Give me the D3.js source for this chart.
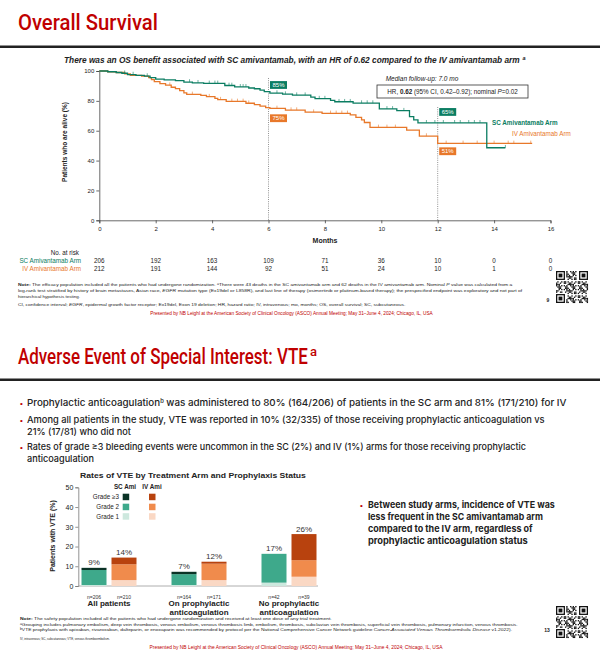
<!DOCTYPE html>
<html><head><meta charset="utf-8">
<script src="https://cdn.jsdelivr.net/npm/d3@7"></script>
<style>body{margin:0;background:#fff}svg{display:block}</style>
</head><body><svg id="c" width="600" height="665"></svg>
<script>
// ---------------- DATA ----------------
const kmMonthTicks = [0,2,4,6,8,10,12,14,16];
const kmPercentTicks = [0,20,40,60,80,100];
const scSteps = [[0,100],[0.3,99.5],[0.6,99],[0.8,98.5],[1.0,97.6],[1.3,97.1],[1.6,96.6],[1.8,95.5],[2.0,94.6],[2.3,94.1],[2.7,93.6],[3.0,92.6],[3.3,92.1],[3.7,91.7],[4.45,90.3],[4.8,89.4],[5.3,88.6],[5.5,88.1],[5.7,87.2],[5.85,86.2],[6.05,85.2],[6.5,84.5],[6.85,83.8],[7.5,82.5],[7.65,81.5],[8.2,80.3],[8.35,79.4],[9.0,78.5],[9.93,74.6],[10.55,73.4],[11.0,69.5],[11.15,67.2],[11.3,65.3],[13.74,48.6]];
const scEnd = 14.4;
const ivSteps = [[0,100],[0.3,99.5],[0.6,99],[0.9,98.1],[1.1,97.1],[1.5,96.6],[1.75,95.6],[1.85,94.2],[1.95,92.9],[2.15,91.5],[2.35,90.5],[2.55,89.1],[2.7,88.2],[2.85,86.8],[3.0,85.4],[3.1,84.3],[3.6,83.7],[3.8,82.8],[4.1,81.6],[4.2,80.8],[4.5,79.6],[5.2,78.4],[5.5,77.5],[5.7,76.5],[5.9,75.5],[6.05,74.9],[6.6,73.8],[7.3,72.4],[7.9,71.6],[8.9,70.6],[9.1,68.9],[9.3,67.3],[9.4,65.5],[9.6,62.2],[10.9,60.4],[11.35,56.4],[12.0,51.5]];
const ivEnd = 15.35;
const scCensor = [0.9,1.2,1.7,3.2,3.5,3.9,4.1,4.2,4.6,4.7,5.0,5.1,5.2,6.3,6.6,7.0,7.3,7.8,8.0,8.5,8.7,8.9,9.3,9.5,9.7,10.2,10.4,10.8,11.6,11.9,12.2,12.6,12.8,13.1,13.3,13.5,14.4];
const ivCensor = [2.5,3.3,3.9,4.3,4.7,4.9,5.1,5.3,6.3,6.8,7.0,7.6,8.2,8.4,8.6,8.8,9.9,10.2,10.5,11.6,12.3,12.9,13.4,14.0,14.5,14.7,15.3];
const atRiskSC = [206,192,163,109,71,36,10,0,0];
const atRiskIV = [212,191,144,92,51,24,10,1,0];
const landmarkMonths = [6,12];
const landmarkSC = [85,65];
const landmarkIV = [75,51];

const vteGroupLines = [["All patients"],["On prophylactic","anticoagulation"],["No prophylactic","anticoagulation"]];
const vteArms = ["SC Ami","IV Ami"];
const vteN = [[206,210],[164,171],[42,39]];
const vteGrade1 = [[0.5,3.0],[0.5,3.0],[1.7,4.7]];
const vteGrade2 = [[7.6,8.0],[5.5,8.3],[14.6,8.4]];
const vteGrade3 = [[1.1,3.4],[1.2,1.0],[0.0,13.2]];
const vteTotalLabels = [[9,14],[7,12],[17,26]];
const vteGradeNames = ["Grade 1","Grade 2","Grade \u22653"];
const vteTicks = [0,10,20,30,40,50];

// ---------------- STYLE ----------------
const RED = "#c00000", GREEN = "#0b7d62", ORANGE = "#e8782a", TXT = "#222";
const SANS = "'Liberation Sans', Arial, sans-serif";
const TITLE = "Roboto, 'Liberation Sans', sans-serif";
const BODY = "Inter, 'Liberation Sans', sans-serif";
const armColors = [["#cde8de","#3ea98b","#0b3326"],["#fad8c4","#f08b4c","#b8420e"]];

const svg = d3.select("#c");
svg.append("rect").attr("width",600).attr("height",665).attr("fill","#fff");

function T(g, x, y, s, o={}) {
  const t = g.append("text").attr("x",x).attr("y",y)
    .attr("font-family",o.family||SANS).attr("font-size",o.size||7)
    .attr("fill",o.fill||TXT).attr("text-anchor",o.anchor||"start");
  if (o.weight) t.attr("font-weight",o.weight);
  if (o.style) t.attr("font-style",o.style);
  if (o.len) t.attr("data-len",o.len);
  if (s !== null) t.text(s);
  return t;
}
function drawQR(x0, y0, size) {
  const n = 25, c = size / n;
  const g = svg.append("g");
  const finder = (fi, fj) => {
    g.append("rect").attr("x",x0+fj*c).attr("y",y0+fi*c).attr("width",7*c).attr("height",7*c).attr("fill","#111");
    g.append("rect").attr("x",x0+(fj+1)*c).attr("y",y0+(fi+1)*c).attr("width",5*c).attr("height",5*c).attr("fill","#fff");
    g.append("rect").attr("x",x0+(fj+2)*c).attr("y",y0+(fi+2)*c).attr("width",3*c).attr("height",3*c).attr("fill","#111");
  };
  for (let i=0;i<n;i++) for (let j=0;j<n;j++) {
    const inF = (i<8&&j<8)||(i<8&&j>=n-8)||(i>=n-8&&j<8);
    if (inF) continue;
    if (((i*31 + j*17 + i*j*7) % 11) < 5)
      g.append("rect").attr("x",x0+j*c).attr("y",y0+i*c).attr("width",c+0.05).attr("height",c+0.05).attr("fill","#111");
  }
  finder(0,0); finder(0,n-7); finder(n-7,0);
}

// =============== SLIDE 1 ===============
T(svg, 18, 30, "Overall Survival", {family:TITLE, size:22, weight:500, fill:RED, len:140});
svg.append("rect").attr("x",0).attr("y",45.5).attr("width",600).attr("height",2.5).attr("fill","#222");
T(svg, 64, 63, "There was an OS benefit associated with SC amivantamab, with an HR of 0.62 compared to the IV amivantamab arm", {size:9.2, weight:"bold", style:"italic", len:456});
T(svg, 522.5, 59.5, "a", {size:5.5, weight:"bold", style:"italic"});

const x = d3.scaleLinear().domain([0,16]).range([99.3,550.5]);
const y = d3.scaleLinear().domain([0,100]).range([220.3,71]);
const km = svg.append("g");

const yAx = km.append("g").attr("transform",`translate(${x(0)},0)`)
  .call(d3.axisLeft(y).tickValues(kmPercentTicks).tickSize(3).tickPadding(2));
const xAx = km.append("g").attr("transform",`translate(0,${y(0)})`)
  .call(d3.axisBottom(x).tickValues(kmMonthTicks).tickSize(3).tickPadding(3));
[yAx,xAx].forEach(a => {
  a.selectAll("path,line").attr("stroke","#444").attr("stroke-width",0.8);
  a.selectAll("text").attr("font-family",SANS).attr("font-size",6).attr("fill",TXT);
});
T(km, 0, 0, "Patients who are alive (%)", {size:6.5, weight:"bold", anchor:"middle"})
  .attr("transform","translate(67,142) rotate(-90)");
T(km, 325, 243, "Months", {size:7, weight:"bold", anchor:"middle"});

// dotted landmark lines
const lmTop = [78, 107];
landmarkMonths.forEach((m,i) => {
  km.append("line").attr("x1",x(m)).attr("x2",x(m)).attr("y1",lmTop[i]).attr("y2",y(0))
    .attr("stroke","#666").attr("stroke-width",0.7).attr("stroke-dasharray","1,1.2");
});

const line = d3.line().x(d=>x(d[0])).y(d=>y(d[1])).curve(d3.curveStepAfter);
function survAt(steps, t){ let v = steps[0][1]; for (const s of steps) if (s[0] <= t) v = s[1]; return v; }
function drawArm(steps, end, censor, col) {
  const pts = steps.concat([[end, steps[steps.length-1][1]]]);
  km.append("path").attr("d", line(pts)).attr("fill","none").attr("stroke",col).attr("stroke-width",1.3);
  censor.forEach(t => {
    const v = survAt(steps,t);
    km.append("line").attr("x1",x(t)).attr("x2",x(t)).attr("y1",y(v)).attr("y2",y(v)-2.8)
      .attr("stroke",col).attr("stroke-width",0.6);
  });
}
drawArm(ivSteps, ivEnd, ivCensor, ORANGE);
drawArm(scSteps, scEnd, scCensor, GREEN);

// landmark labels
const scOff = [-12.3, -15.2], ivOff = [6, 3.2];
landmarkMonths.forEach((m,i) => {
  [[landmarkSC[i], GREEN, scOff[i]], [landmarkIV[i], ORANGE, ivOff[i]]].forEach(([v,col,off]) => {
    const yy = y(v) + off;
    km.append("rect").attr("x",x(m)+1.5).attr("y",yy).attr("width",17).attr("height",7.8).attr("fill",col);
    T(km, x(m)+10, yy+6, v+"%", {size:6, fill:"#fff", anchor:"middle"});
  });
});

// median follow-up and HR box
T(km, 422, 81, "Median follow-up: 7.0 mo", {size:6.5, style:"italic", anchor:"middle"});
km.append("rect").attr("x",377).attr("y",85).attr("width",151).attr("height",13).attr("fill","#fff").attr("stroke","#333").attr("stroke-width",0.8);
{
  const t = T(km, 452.5, 93.8, null, {size:6.3, anchor:"middle"});
  t.append("tspan").text("HR, ");
  t.append("tspan").attr("font-weight","bold").text("0.62");
  t.append("tspan").text(" (95% CI, 0.42\u20130.92); nominal ");
  t.append("tspan").attr("font-style","italic").text("P");
  t.append("tspan").text("=0.02");
}
T(km, 492, 125, "SC Amivantamab  Arm", {size:6.3, weight:"bold", fill:GREEN});
T(km, 512, 136, "IV Amivantamab Arm", {size:6.3, fill:ORANGE});

// number at risk
T(svg, 79, 255, "No. at risk", {size:6.3, anchor:"end"});
T(svg, 81, 263, "SC Amivantamab  Arm", {size:6.3, anchor:"end", fill:GREEN});
T(svg, 81, 271, "IV Amivantamab  Arm", {size:6.3, anchor:"end", fill:ORANGE});
kmMonthTicks.forEach((m,i) => {
  T(svg, x(m), 263, String(atRiskSC[i]), {size:6.3, anchor:"middle"});
  T(svg, x(m), 271, String(atRiskIV[i]), {size:6.3, anchor:"middle"});
});

// notes
{
  let t = T(svg, 18, 286, null, {size:4.4, len:495});
  t.append("tspan").attr("font-weight","bold").text("Note:");
  t.append("tspan").text(" The efficacy population included all the patients who had undergone randomization. \u1d43There were 43 deaths in the SC amivantamab arm and 62 deaths in the IV amivantamab arm. Nominal ");
  t.append("tspan").attr("font-style","italic").text("P");
  t.append("tspan").text(" value was calculated from a");
  t = T(svg, 18, 292, null, {size:4.4, len:504});
  t.append("tspan").text("log-rank test stratified by history of brain metastases, Asian race, ");
  t.append("tspan").attr("font-style","italic").text("EGFR");
  t.append("tspan").text(" mutation type (Ex19del or L858R), and last line of therapy (osimertinib or platinum-based therapy); the prespecified endpoint was exploratory and not part of");
  T(svg, 18, 298, "hierarchical hypothesis testing.", {size:4.4, len:62});
  t = T(svg, 18, 306, null, {size:4.4, len:388});
  t.append("tspan").text("CI, confidence interval; ");
  t.append("tspan").attr("font-style","italic").text("EGFR");
  t.append("tspan").text(", epidermal growth factor receptor; Ex19del, Exon 19 deletion; HR, hazard ratio; IV, intravenous; mo, months; OS, overall survival; SC, subcutaneous.");
  T(svg, 291.5, 315, "Presented by NB Leighl at the American Society of Clinical Oncology (ASCO) Annual Meeting; May 31\u2013June 4, 2024; Chicago, IL, USA", {size:4.6, fill:RED, anchor:"middle", len:283});
}
drawQR(556, 271, 32);
T(svg, 548, 302, "9", {size:5, weight:"bold", anchor:"middle"});

// =============== SLIDE 2 ===============
T(svg, 18, 364, "Adverse Event of Special Interest: VTE", {family:TITLE, size:22, weight:500, fill:RED, len:290});
T(svg, 310, 356, "a", {family:TITLE, size:13, weight:500, fill:RED});
svg.append("rect").attr("x",0).attr("y",378.5).attr("width",600).attr("height",2.5).attr("fill","#222");

function bullet(yc, lines, o={}) {
  T(svg, o.bx||20, yc+3.2, "\u2022", {size:8, fill:RED});
  lines.forEach((l,i) => {
    const t = T(svg, o.tx||27, yc + 3.3 + i*(o.lh||12.7), null, {family:BODY, size:o.size||9.3, weight:o.weight||500, len:l[1]});
    if (Array.isArray(l[0])) l[0].forEach(p => { const s = t.append("tspan").text(p.t); if (p.sup) s.attr("font-size",5.5).attr("dy",-3.5); if (p.undo) s.attr("dy",3.5); });
    else t.text(l[0]);
  });
}
bullet(403, [[[{t:"Prophylactic anticoagulation"},{t:"b",sup:true},{t:" was administered to 80% (164/206) of patients in the SC arm and 81% (171/210) for IV",undo:true}], 540]]);
bullet(419.5, [["Among all patients in the study, VTE  was reported in 10% (32/335) of those receiving prophylactic anticoagulation vs", 518], ["21% (17/81) who did not", 104]]);
bullet(446.5, [["Rates of grade \u22653 bleeding events were uncommon in the SC (2%) and IV (1%) arms for those receiving prophylactic", 500], ["anticoagulation", 67]]);

T(svg, 193, 478, "Rates of VTE by Treatment Arm and Prophylaxis Status", {size:7.6, weight:"bold", anchor:"middle", len:226});

// bar chart
const gx = d3.scaleBand().domain(d3.range(vteGroupLines.length)).range([64,334]);
const ax = d3.scaleBand().domain(vteArms).range([17.5,72.5]).paddingInner(1/6);
const by = d3.scaleLinear().domain([0,50]).range([586,487.3]);
const bc = svg.append("g");
const bAx = bc.append("g").attr("transform","translate(78.3,0)")
  .call(d3.axisLeft(by).tickValues(vteTicks).tickSize(3).tickPadding(2));
bAx.selectAll("path,line").attr("stroke","#777").attr("stroke-width",0.8);
bAx.selectAll("text").attr("font-family",SANS).attr("font-size",7).attr("fill",TXT);
bc.append("line").attr("x1",78.3).attr("x2",318).attr("y1",by(0)).attr("y2",by(0)).attr("stroke","#999").attr("stroke-width",0.8);
T(bc, 0, 0, "Patients with VTE (%)", {size:7, weight:"bold", anchor:"middle"}).attr("transform","translate(55,536) rotate(-90)");

vteGroupLines.forEach((lines, gi) => {
  vteArms.forEach((arm, ai) => {
    const segs = [vteGrade1[gi][ai], vteGrade2[gi][ai], vteGrade3[gi][ai]];
    let base = 0;
    const bx = gx(gi) + ax(arm);
    segs.forEach((v, si) => {
      if (v > 0) bc.append("rect").attr("x",bx).attr("width",ax.bandwidth())
        .attr("y",by(base+v)).attr("height",by(base)-by(base+v)).attr("fill",armColors[ai][si]);
      base += v;
    });
    T(bc, bx + ax.bandwidth()/2, by(base) - 2.5, vteTotalLabels[gi][ai] + "%", {size:8, fill:"#333", anchor:"middle"});
    T(bc, bx + ax.bandwidth()/2, 598.5, "n=" + vteN[gi][ai], {size:5, fill:"#333", anchor:"middle"});
  });
  lines.forEach((l, li) => T(bc, gx(gi) + gx.bandwidth()/2, 606 + li*9, l, {size:8, weight:"bold", anchor:"middle"}));
});

// legend
const legY = [497, 507, 516.5];
T(bc, 125, 488.5, vteArms[0], {size:6.3, weight:"bold", anchor:"middle"});
T(bc, 152, 488.5, vteArms[1], {size:6.3, weight:"bold", anchor:"middle"});
[2,1,0].forEach((si, ri) => {
  T(bc, 119, legY[ri] + 2.3, vteGradeNames[si], {size:6.3, anchor:"end"});
  bc.append("rect").attr("x",122.7).attr("y",legY[ri]-3.3).attr("width",6.5).attr("height",6.5).attr("fill",armColors[0][si]);
  bc.append("rect").attr("x",149).attr("y",legY[ri]-3.3).attr("width",6.5).attr("height",6.5).attr("fill",armColors[1][si]);
});

// right bullet
bullet(504.5, [["Between study arms, incidence of VTE was", 187], ["less frequent in the SC amivantamab arm", 175], ["compared to the IV arm, regardless of", 165], ["prophylactic anticoagulation status", 160]], {bx:360, tx:368, weight:"bold", lh:12});

// notes slide 2
{
  let t = T(svg, 20, 620.5, null, {size:4.4, len:312});
  t.append("tspan").attr("font-weight","bold").text("Note:");
  t.append("tspan").text(" The safety population included all the patients who had undergone randomization and received at least one dose of any trial treatment.");
  T(svg, 20, 625.8, "\u1d43Grouping includes pulmonary embolism, deep vein thrombosis, venous embolism, venous thrombosis limb, embolism, thrombosis, subclavian vein thrombosis, superficial vein thrombosis, pulmonary infarction, venous thrombosis.", {size:4.4, len:498});
  t = T(svg, 20, 630.8, null, {size:4.4, len:493});
  t.append("tspan").text("\u1d47VTE prophylaxis with apixaban, rivaroxaban, dalteparin, or enoxaparin was recommended by protocol per the National Comprehensive Cancer Network guideline ");
  t.append("tspan").attr("font-style","italic").text("Cancer-Associated Venous Thromboembolic Disease");
  t.append("tspan").text(" v1.2022).");
  T(svg, 20, 640.5, "IV, intravenous; SC, subcutaneous; VTE, venous thromboembolism.", {size:4.4, len:90});
  T(svg, 296, 649.5, "Presented by NB Leighl at the American Society of Clinical Oncology (ASCO) Annual Meeting; May 31\u2013June 4, 2024; Chicago, IL, USA", {size:4.6, fill:RED, anchor:"middle", len:293});
}
drawQR(556, 606, 32);
T(svg, 547, 632, "13", {size:5, weight:"bold", anchor:"middle"});

// fit texts to their measured widths by horizontal scaling
svg.selectAll("text[data-len]").each(function(){
  const n = this.getComputedTextLength();
  if (!n) return;
  const k = +this.getAttribute("data-len") / n;
  const tx = +this.getAttribute("x"), ty = +this.getAttribute("y");
  this.setAttribute("transform", `translate(${tx},${ty}) scale(${k},1) translate(${-tx},${-ty})`);
});
</script></body></html>
